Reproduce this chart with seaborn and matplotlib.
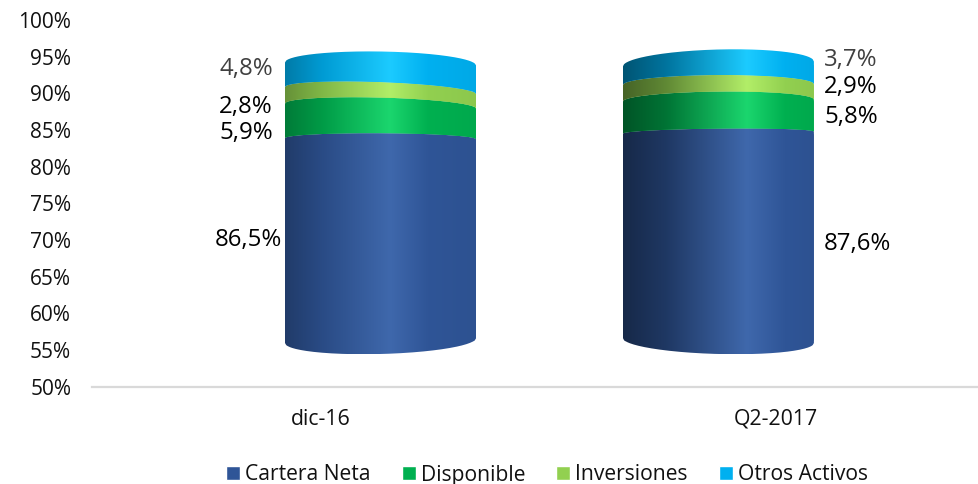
import numpy as np
import pandas as pd
import seaborn as sns
import matplotlib
matplotlib.use("Agg")
import matplotlib.pyplot as plt
from matplotlib.path import Path
from matplotlib.patches import PathPatch
from matplotlib.colors import LinearSegmentedColormap
from matplotlib.ticker import FuncFormatter

periods = ["dic-16", "Q2-2017"]
series_names = ["Cartera Neta", "Disponible", "Inversiones", "Otros Activos"]
cartera = [86.5, 87.6]
disponible = [5.9, 5.8]
inversiones = [2.8, 2.9]
otros = [4.8, 3.7]
axis_ticks = list(range(50, 101, 5))
axis_floor = 50

base_colors = ["#2F5597", "#00B050", "#92D050", "#00B0F0"]
high_colors = ["#3F68AC", "#1BD66E", "#B2EE68", "#1CCBFF"]

sns.set_theme(style="white")
plt.rcParams["font.family"] = ["Open Sans", "DejaVu Sans"]

W, H = 979, 484
fig = plt.figure(figsize=(W / 100, H / 100), dpi=100)
fig.patch.set_facecolor("white")


def box(l, t, r, b):
    return [l / W, 1 - b / H, (r - l) / W, (b - t) / H]


# Axis plane
ax = fig.add_axes(box(92, 20, 979, 386.7))
ax.set_ylim(50, 100)
unit = 776 - 320.7
ax.set_xlim((92 - 320.7) / unit, (979 - 320.7) / unit)
ax.set_yticks(axis_ticks)
ax.yaxis.set_major_formatter(FuncFormatter(lambda v, _: f"{v:.0f}%"))
ax.set_xticks([0, 1], periods)
ax.tick_params(axis="y", length=0, pad=15, labelsize=15, labelcolor="#111111")
ax.tick_params(axis="x", length=0, pad=16, labelsize=15.3, labelcolor="#111111")
sns.despine(ax=ax, left=True, top=True, right=True)
ax.spines["bottom"].set_color("#D9D9D9")
ax.spines["bottom"].set_linewidth(1.6)
ax.grid(False)

# Cylinder plane (the 3D front face has its own scale)
ax2 = fig.add_axes(box(92, 20, 979, 386.7), facecolor="none")
ax2.set_zorder(ax.get_zorder() + 1)

df = pd.DataFrame({"Periodo": periods, series_names[0]: cartera, series_names[1]: disponible,
                   series_names[2]: inversiones, series_names[3]: otros})
bar_unit = 718.4 - 380.5
bar_width = 191 / bar_unit
bottoms = np.full(len(periods), float(axis_floor))
stack = [bottoms.copy()]
for i, name in enumerate(series_names):
    vals = df[name].to_numpy(dtype=float)
    heights = vals - axis_floor if i == 0 else vals
    sns.barplot(x=df["Periodo"], y=heights, bottom=bottoms, color=base_colors[i], saturation=1,
                width=bar_width, label=name, ax=ax2, legend=False)
    bottoms = bottoms + heights
    stack.append(bottoms.copy())

ax2.set_xlim((92 - 380.5) / bar_unit, (979 - 380.5) / bar_unit)
pct_per_px = 50 / (340.5 - 64)
ax2.set_ylim(50 - (386.7 - 340.5) * pct_per_px, 100 + (64 - 20) * pct_per_px)
ax2.axis("off")

# Curvature of each boundary, in pixels: bottom, then the top of each series
rises = [[-13.5, 5.5, 8.5, 8.5, 12.5], [-13.5, 4, 9, 9.5, 14.5]]
tilts = [[2.5, -0.5, -2.5, -3.5, -1.5], [-2.5, 1, 1, 0.5, 2.5]]
light_pos = [0.55, 0.65]
left_dark = [0.70, 0.48]

t = np.linspace(-1, 1, 161)


def arc(b, k):
    x = b + t * bar_width / 2
    y = stack[k][b] + (rises[b][k] * np.sqrt(1 - t ** 2) + tilts[b][k] * t) * pct_per_px
    return x, y


def scaled(hexcol, f):
    return tuple(np.array(matplotlib.colors.to_rgb(hexcol)) * f)


containers = ax2.containers
for i in range(len(series_names)):
    for b in range(len(periods)):
        x0, y0 = arc(b, i)
        x1, y1 = arc(b, i + 1)
        verts = np.vstack([np.c_[x0, y0], np.c_[x1, y1][::-1], [[x0[0], y0[0]]]])
        clip = PathPatch(Path(verts), transform=ax2.transData, facecolor="none", edgecolor="none")
        ax2.add_patch(clip)
        cmap = LinearSegmentedColormap.from_list("c", [
            (0, scaled(base_colors[i], left_dark[b])),
            (light_pos[b] * 0.35, scaled(base_colors[i], left_dark[b] + 0.18)),
            (light_pos[b], matplotlib.colors.to_rgb(high_colors[i])),
            (min(light_pos[b] + 0.2, 0.95), matplotlib.colors.to_rgb(base_colors[i])),
            (1, scaled(base_colors[i], 0.96)),
        ])
        img = ax2.imshow(np.linspace(0, 1, 256)[None, :], cmap=cmap, aspect="auto", vmin=0, vmax=1,
                         extent=[b - bar_width / 2, b + bar_width / 2, min(y0.min(), y1.min()),
                                 max(y0.max(), y1.max())], zorder=3)
        img.set_clip_path(clip)
        containers[i][b].set_clip_path(clip)
ax2.set_xlim((92 - 380.5) / bar_unit, (979 - 380.5) / bar_unit)
ax2.set_ylim(50 - (386.7 - 340.5) * pct_per_px, 100 + (64 - 20) * pct_per_px)

# Data labels
label_px = [
    [(248, 240), (246, 132.5), (246, 106.5), (246, 69)],
    [(857, 244), (851, 117), (851, 87), (851, 60)],
]
label_col = ["#000000", "#000000", "#000000", "#404040"]
for i, name in enumerate(series_names):
    for b in range(len(periods)):
        px, py = label_px[b][i]
        ax2.text(px / W, 1 - py / H, f"{df[name][b]:.1f}%".replace(".", ","), transform=fig.transFigure,
                 ha="center", va="center", fontsize=17.3, color=label_col[i], zorder=5)

# Legend
handles, labels = ax2.get_legend_handles_labels()
fig.legend(handles, labels, loc="center", bbox_to_anchor=(547 / W, 1 - 475 / H), ncols=4, frameon=False,
           fontsize=15.2, handlelength=0.68, handleheight=0.68, handletextpad=0.24, columnspacing=1.45,
           borderpad=0, borderaxespad=0, labelcolor="#111111")

fig.savefig("out.png", dpi=100)
